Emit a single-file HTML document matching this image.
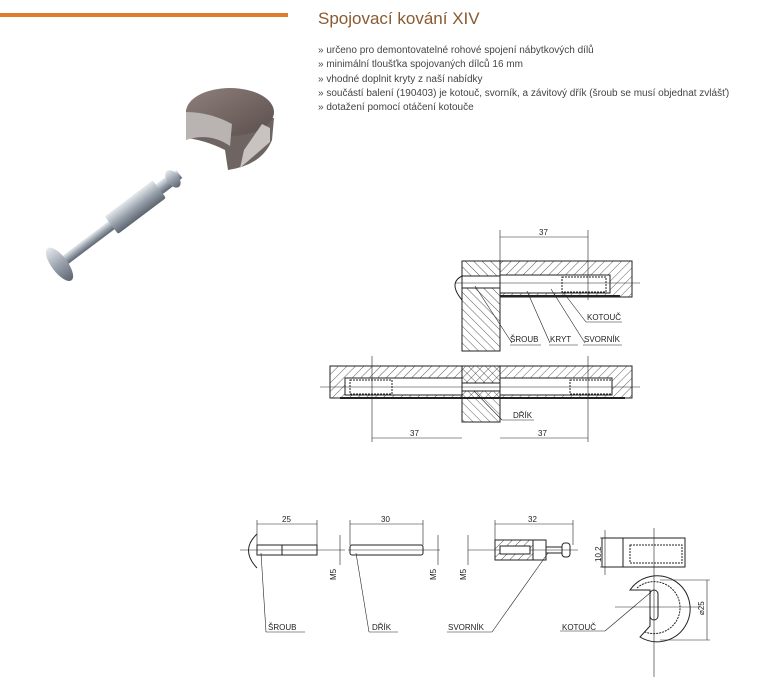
<!DOCTYPE html>
<html><head><meta charset="utf-8"><style>
body{margin:0;background:#fff;width:770px;height:677px;overflow:hidden;font-family:"Liberation Sans",sans-serif}
svg{position:absolute;left:0;top:0}
</style></head><body>
<svg width="770" height="677" viewBox="0 0 770 677" xmlns="http://www.w3.org/2000/svg">
<defs>
<pattern id="h" width="6" height="6" patternUnits="userSpaceOnUse" patternTransform="rotate(45)">
<line x1="0" y1="0" x2="0" y2="6" stroke="#333" stroke-width="0.8"/></pattern>
<pattern id="h2" width="6" height="6" patternUnits="userSpaceOnUse" patternTransform="rotate(-45)">
<line x1="0" y1="0" x2="0" y2="6" stroke="#333" stroke-width="0.8"/></pattern>
<linearGradient id="met" x1="0" y1="0" x2="0" y2="1"><stop offset="0" stop-color="#e6eaee"/><stop offset=".5" stop-color="#9aa3ad"/><stop offset="1" stop-color="#5d6670"/></linearGradient>
<linearGradient id="disc" x1="0" y1="0" x2="1" y2="1"><stop offset="0" stop-color="#8f807c"/><stop offset="1" stop-color="#5a4e4c"/></linearGradient>
</defs>
<rect x="0" y="13" width="288" height="4" fill="#e07c2c"/>
<text x="318" y="24" font-size="17" fill="#8a5a30">Spojovací kování XIV</text>
<g font-size="10" fill="#444">
<text x="318" y="53">» určeno pro demontovatelné rohové spojení nábytkových dílů</text>
<text x="318" y="67">» minimální tloušťka spojovaných dílců 16 mm</text>
<text x="318" y="82">» vhodné doplnit kryty z naší nabídky</text>
<text x="318" y="96">» součástí balení (190403) je kotouč, svorník, a závitový dřík (šroub se musí objednat zvlášť)</text>
<text x="318" y="110">» dotažení pomocí otáčení kotouče</text>
</g>
<!-- photo -->
<path d="M186 110 L186 138 Q205 140 225 150 L228 170 Q262 165 272 140 L274 118 Z" fill="#6e6462"/>
<ellipse cx="230" cy="112" rx="44" ry="24" fill="url(#disc)"/>
<path d="M186 112 L186 140 Q210 132 230 146 L232 124 Q210 112 186 112Z" fill="#b9b3b2"/>
<path d="M244 150 L262 124 L270 128 L270 142 L240 168Z" fill="#c8c2c1"/>
<g transform="rotate(-37 120 220)">
<rect x="45" y="214" width="150" height="10" fill="url(#met)"/>
<rect x="110" y="208" width="60" height="22" rx="2" fill="url(#met)"/>
<rect x="170" y="213" width="12" height="12" fill="url(#met)"/>
<ellipse cx="187" cy="219" rx="6" ry="10" fill="url(#met)"/>
<ellipse cx="45" cy="219" rx="8" ry="20" fill="url(#met)"/>
</g>
<!-- top assembly -->
<g stroke="#222" stroke-width="1" fill="none">
<rect x="462" y="261" width="38" height="90" fill="url(#h2)"/>
<rect x="500" y="261" width="132" height="36" fill="url(#h)"/>
<rect x="500" y="275" width="110" height="18" fill="#fff"/>
<rect x="462" y="276" width="38" height="12" fill="#fff"/>
<rect x="562" y="277" width="44" height="15" stroke-dasharray="2 1"/>
<line x1="500" y1="296" x2="620" y2="296" stroke-width="2"/>
<path d="M462 276 Q448 283 462 300"/>
<line x1="455" y1="283" x2="640" y2="283" stroke-width=".6"/>
<line x1="500" y1="230" x2="500" y2="300" stroke-width=".6"/>
<line x1="588" y1="230" x2="588" y2="300" stroke-width=".6"/>
<line x1="500" y1="237" x2="588" y2="237" stroke-width=".6"/>
<line x1="475" y1="286" x2="512" y2="343" stroke-width=".6"/>
<line x1="527" y1="291" x2="550" y2="343" stroke-width=".6"/>
<line x1="551" y1="289" x2="585" y2="343" stroke-width=".6"/>
<line x1="563" y1="292" x2="586" y2="322" stroke-width=".6"/>
<line x1="510" y1="345" x2="541" y2="345" stroke-width=".6"/>
<line x1="549" y1="345" x2="578" y2="345" stroke-width=".6"/>
<line x1="583" y1="345" x2="622" y2="345" stroke-width=".6"/>
<line x1="586" y1="322" x2="622" y2="322" stroke-width=".6"/>
</g>
<g font-size="8" fill="#222">
<text x="539" y="235">37</text>
<text x="510" y="342">ŠROUB</text><text x="550" y="342">KRYT</text><text x="584" y="342">SVORNÍK</text>
<text x="587" y="320">KOTOUČ</text>
</g>
<!-- bottom assembly -->
<g stroke="#222" stroke-width="1" fill="none">
<rect x="330" y="366" width="302" height="32" fill="url(#h)"/>
<rect x="462" y="366" width="38" height="56" fill="url(#h2)"/>
<rect x="345" y="378" width="117" height="17" fill="#fff"/>
<rect x="500" y="378" width="112" height="17" fill="#fff"/>
<rect x="350" y="380" width="42" height="14" stroke-dasharray="2 1"/>
<rect x="570" y="380" width="42" height="14" stroke-dasharray="2 1"/>
<rect x="462" y="383" width="38" height="8" fill="#fff"/>
<line x1="340" y1="398" x2="625" y2="398" stroke-width="2"/>
<line x1="320" y1="387" x2="640" y2="387" stroke-width=".6"/>
<line x1="372" y1="356" x2="372" y2="442" stroke-width=".6"/>
<line x1="588" y1="356" x2="588" y2="442" stroke-width=".6"/>
<line x1="372" y1="438" x2="462" y2="438" stroke-width=".6"/>
<line x1="500" y1="438" x2="588" y2="438" stroke-width=".6"/>
<line x1="474" y1="391" x2="502" y2="420" stroke-width=".6"/>
<line x1="502" y1="420" x2="534" y2="420" stroke-width=".6"/>
</g>
<g font-size="8" fill="#222">
<text x="410" y="436">37</text><text x="538" y="436">37</text><text x="513" y="418">DŘÍK</text>
</g>
<!-- parts -->
<g stroke="#222" stroke-width="1" fill="none">
<line x1="240" y1="550" x2="345" y2="550" stroke-width=".6"/>
<path d="M257 534 Q240 550 257 568"/>
<rect x="257" y="545" width="60" height="10"/>
<line x1="282" y1="545" x2="282" y2="555"/>
<line x1="257" y1="524" x2="317" y2="524" stroke-width=".6"/>
<line x1="257" y1="520" x2="257" y2="545" stroke-width=".6"/><line x1="317" y1="520" x2="317" y2="545" stroke-width=".6"/>
<line x1="340" y1="535" x2="340" y2="565" stroke-width=".6"/>
<line x1="261" y1="553" x2="266" y2="632" stroke-width=".6"/><line x1="266" y1="632" x2="305" y2="632" stroke-width=".6"/>
<rect x="350" y="545" width="73" height="10" rx="2"/>
<line x1="348" y1="550" x2="440" y2="550" stroke-width=".6"/>
<line x1="350" y1="524" x2="423" y2="524" stroke-width=".6"/>
<line x1="350" y1="520" x2="350" y2="545" stroke-width=".6"/><line x1="423" y1="520" x2="423" y2="545" stroke-width=".6"/>
<line x1="438" y1="535" x2="438" y2="565" stroke-width=".6"/>
<line x1="356" y1="553" x2="369" y2="632" stroke-width=".6"/><line x1="369" y1="632" x2="398" y2="632" stroke-width=".6"/>
<line x1="468" y1="535" x2="468" y2="565" stroke-width=".6"/>
<line x1="468" y1="550" x2="578" y2="550" stroke-width=".6"/>
<rect x="495" y="540" width="38" height="20" fill="url(#h)"/>
<rect x="500" y="546" width="30" height="8" fill="#fff"/>
<rect x="533" y="540" width="13" height="20"/>
<rect x="546" y="547" width="16" height="6"/>
<rect x="562" y="543" width="8" height="14" rx="3"/>
<line x1="495" y1="524" x2="573" y2="524" stroke-width=".6"/>
<line x1="495" y1="520" x2="495" y2="540" stroke-width=".6"/><line x1="573" y1="520" x2="573" y2="545" stroke-width=".6"/>
<line x1="548" y1="553" x2="492" y2="632" stroke-width=".6"/><line x1="447" y1="632" x2="492" y2="632" stroke-width=".6"/>
<rect x="602" y="538" width="83" height="29"/>
<line x1="623" y1="538" x2="623" y2="567"/>
<rect x="630" y="545" width="52" height="18" stroke-dasharray="2 1"/>
<line x1="600" y1="538" x2="615" y2="538" stroke-width=".6"/><line x1="600" y1="567" x2="615" y2="567" stroke-width=".6"/>
<line x1="605" y1="530" x2="605" y2="575" stroke-width=".6"/>
<line x1="654" y1="528" x2="654" y2="677" stroke-width=".6"/>
<line x1="615" y1="607" x2="700" y2="607" stroke-width=".6"/>
<path d="M630 590 A33 33 0 1 1 640 637 L650 626 L650 590 Z"/>
<path d="M637 588 A26 26 0 1 1 645 632" stroke-dasharray="2 1"/>
<rect x="650" y="590" width="8" height="30" rx="4"/>
<line x1="660" y1="580" x2="710" y2="580" stroke-width=".6"/><line x1="660" y1="640" x2="710" y2="640" stroke-width=".6"/>
<line x1="707" y1="580" x2="707" y2="640" stroke-width=".6"/>
<line x1="650" y1="593" x2="605" y2="631" stroke-width=".6"/><line x1="560" y1="631" x2="605" y2="631" stroke-width=".6"/>
</g>
<g font-size="8" fill="#222">
<text x="282" y="522">25</text><text x="381" y="522">30</text><text x="528" y="522">32</text>
<text x="268" y="630">ŠROUB</text><text x="372" y="630">DŘÍK</text><text x="448" y="630">SVORNÍK</text><text x="562" y="630">KOTOUČ</text>
<text transform="translate(336 580) rotate(-90)">M5</text>
<text transform="translate(436 580) rotate(-90)">M5</text>
<text transform="translate(466 580) rotate(-90)">M5</text>
<text transform="translate(601 562) rotate(-90)">10,2</text>
<text transform="translate(704 615) rotate(-90)">⌀25</text>
</g>
</svg>
</body></html>
